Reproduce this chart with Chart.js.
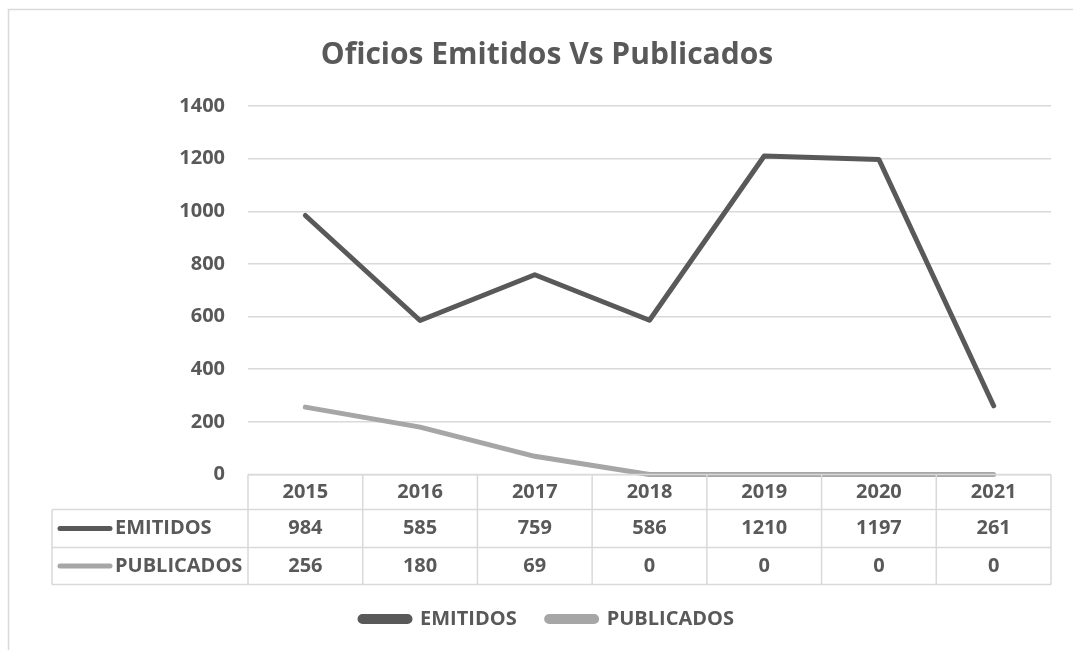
<!DOCTYPE html>
<html>
<head>
<meta charset="utf-8">
<script src="https://cdn.jsdelivr.net/npm/chart.js@4/dist/chart.umd.min.js"></script>
<style>
  html, body { margin: 0; padding: 0; background: #ffffff; }
  #wrap { width: 1073px; height: 650px; position: relative; }
</style>
</head>
<body>
<div id="wrap"><canvas id="c" width="1073" height="650"></canvas></div>
<script>
const TITLE = 'Oficios Emitidos Vs Publicados';
const years = ['2015', '2016', '2017', '2018', '2019', '2020', '2021'];
const emitidos = [984, 585, 759, 586, 1210, 1197, 261];
const publicados = [256, 180, 69, 0, 0, 0, 0];
const seriesNames = ['EMITIDOS', 'PUBLICADOS'];
const yTicks = [0, 200, 400, 600, 800, 1000, 1200, 1400];

const TEXT = '#595959';
const GRID = '#D9D9D9';
const FONT = "'Open Sans', 'Liberation Sans', sans-serif";

const frame = {
  id: 'frame',
  beforeDraw(chart) {
    const ctx = chart.ctx;
    ctx.save();
    ctx.fillStyle = '#ffffff';
    ctx.fillRect(0, 0, chart.width, chart.height);
    ctx.strokeStyle = GRID;
    ctx.lineWidth = 1.5;
    ctx.beginPath();
    ctx.moveTo(8.5, chart.height);
    ctx.lineTo(8.5, 9.5);
    ctx.lineTo(chart.width, 9.5);
    ctx.stroke();
    ctx.restore();
  }
};

const dataTable = {
  id: 'dataTable',
  afterDraw(chart) {
    const ctx = chart.ctx;
    const xs = chart.scales.x;
    const n = years.length;
    const colW = (xs.right - xs.left) / n;
    const left = xs.left, right = xs.right;
    const y0 = chart.chartArea.bottom;
    const y1 = y0 + 35, y2 = y0 + 73, y3 = y0 + 110;
    const labLeft = 52;
    ctx.save();
    ctx.strokeStyle = GRID;
    ctx.lineWidth = 1.5;
    ctx.beginPath();
    ctx.moveTo(left, y0); ctx.lineTo(right, y0);
    ctx.moveTo(labLeft, y1); ctx.lineTo(right, y1);
    ctx.moveTo(labLeft, y2); ctx.lineTo(right, y2);
    ctx.moveTo(labLeft, y3); ctx.lineTo(right, y3);
    for (let i = 0; i <= n; i++) {
      const x = left + i * colW;
      ctx.moveTo(x, y0); ctx.lineTo(x, y3);
    }
    ctx.moveTo(labLeft, y1); ctx.lineTo(labLeft, y3);
    ctx.stroke();

    const rows = [[y1, y2], [y2, y3]];
    ctx.font = "bold 20px " + FONT;
    ctx.textBaseline = 'middle';
    chart.data.datasets.forEach((ds, r) => {
      const cy = (rows[r][0] + rows[r][1]) / 2;
      ctx.strokeStyle = ds.borderColor;
      ctx.lineWidth = 5;
      ctx.lineCap = 'round';
      ctx.beginPath();
      ctx.moveTo(60, cy); ctx.lineTo(110, cy);
      ctx.stroke();
      ctx.fillStyle = TEXT;
      ctx.textAlign = 'left';
      ctx.fillText(ds.label, 115, cy);
      ctx.textAlign = 'center';
      ds.data.forEach((v, i) => {
        ctx.fillText(String(v), xs.getPixelForValue(i), cy);
      });
    });
    ctx.restore();
  }
};

new Chart(document.getElementById('c'), {
  type: 'line',
  data: {
    labels: years,
    datasets: [
      { label: seriesNames[0], data: emitidos, borderColor: '#595959', backgroundColor: '#595959' },
      { label: seriesNames[1], data: publicados, borderColor: '#A6A6A6', backgroundColor: '#A6A6A6' }
    ]
  },
  options: {
    responsive: false,
    animation: false,
    devicePixelRatio: 1,
    layout: { padding: { left: 43, right: 22, top: 0, bottom: 11 } },
    elements: {
      line: { borderWidth: 5, tension: 0, borderCapStyle: 'round', borderJoinStyle: 'round', fill: false },
      point: { radius: 0, hoverRadius: 0 }
    },
    datasets: { line: { clip: false } },
    plugins: {
      title: {
        display: true,
        text: TITLE,
        color: TEXT,
        font: { family: FONT, size: 30, weight: 'bold', lineHeight: 1.2 },
        padding: { top: 37, bottom: 33 }
      },
      legend: {
        display: true,
        position: 'bottom',
        labels: {
          color: TEXT,
          font: { family: FONT, size: 20, weight: 'bold' },
          boxWidth: 50,
          boxHeight: 5,
          padding: 30,
          useBorderRadius: true,
          borderRadius: 2.5
        }
      },
      tooltip: { enabled: false }
    },
    scales: {
      x: {
        type: 'category',
        offset: true,
        grid: { display: false, drawTicks: false },
        border: { display: false },
        ticks: { color: TEXT, font: { family: FONT, size: 20, weight: 'bold' }, padding: 6, maxRotation: 0, autoSkip: false },
        afterFit(scale) { scale.height = 104.5; }
      },
      y: {
        min: yTicks[0],
        max: yTicks[yTicks.length - 1],
        afterBuildTicks(scale) { scale.ticks = yTicks.map(v => ({ value: v })); },
        grid: { color: GRID, lineWidth: 1.5, drawTicks: false },
        border: { display: false },
        ticks: {
          color: TEXT,
          font: { family: FONT, size: 20, weight: 'bold' },
          padding: 23,
          callback: (v) => String(v)
        },
        afterFit(scale) { scale.width = 205; }
      }
    }
  },
  plugins: [frame, dataTable]
});
</script>
</body>
</html>
